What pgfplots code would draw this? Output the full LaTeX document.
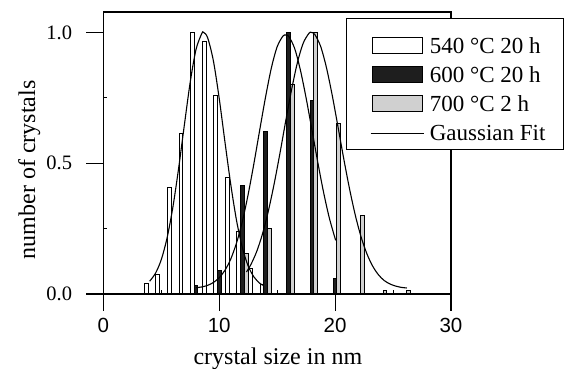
\documentclass[border=0pt]{standalone}
\usepackage{fontspec}
\setmainfont{Liberation Serif}
\newfontfamily\arialfont{Liberation Sans}
\usepackage{pgfplots}
\pgfplotsset{compat=1.18}
\definecolor{barblack}{HTML}{1E1E1E}
\definecolor{bargrey}{HTML}{D0D0D0}
\pgfplotsset{
  barleg/.style={legend image code/.code={\draw[##1, line width=0.9pt] (0pt,0pt) rectangle (50pt,16pt); \path (-7.6pt,0pt) (57pt,0pt);}},
  lineleg/.style={legend image code/.code={\draw[##1] (-1.6pt,7pt) -- (51.6pt,7pt); \path (-7.6pt,0pt) (57pt,0pt);}},
}
\begin{document}
\begin{tikzpicture}
\useasboundingbox (0,0) rectangle (565pt,369pt);
\begin{axis}[
  at={(103.3pt,75pt)}, anchor=south west,
  scale only axis, width=347.7pt, height=282pt,
  xmin=0, xmax=30, ymin=0, ymax=1.078,
  xtick={0,10,20,30}, xticklabels={0,10,20,30},
  ytick={0,0.5,1}, yticklabels={0.0,0.5,1.0},
  minor xtick={5,15,25}, minor ytick={0.25,0.75},
  xtick pos=bottom, ytick pos=left,
  tick align=inside, major tick length=-17pt, minor tick length=4pt,
  every tick/.style={black, line width=1.1pt},
  axis line style={line width=1.2pt},
  xticklabel style={font=\arialfont\fontsize{20.5}{20.5}\selectfont, anchor=base, inner sep=0pt, yshift=-39pt},
  yticklabel style={font=\fontsize{20.5}{20.5}\selectfont, anchor=east, inner sep=0pt, xshift=-31pt},
  xlabel={crystal size in nm},
  ylabel={number of crystals},
  xlabel style={font=\fontsize{24}{24}\selectfont, at={(axis description cs:0.502,-0.25)}, anchor=base},
  ylabel style={font=\fontsize{24}{24}\selectfont, at={(axis description cs:-0.1964,0.44)}, anchor=base},
  legend style={at={(1.325,0.9777)}, anchor=north east, draw=black, line width=1pt, fill=white,
    inner xsep=18pt, inner ysep=8pt, row sep=2.3pt,
    nodes={inner sep=0pt, text height=26.4pt, text depth=0pt, font=\fontsize{23}{23}\selectfont, anchor=base west}},
]
\addplot[ybar, bar width=0.33, bar shift=0pt, fill=white, draw=black, line width=1pt, barleg]
coordinates {(3.7,0.04) (4.7,0.073) (5.7,0.407) (6.7,0.613) (7.7,1.0) (8.7,0.967) (9.7,0.76) (10.7,0.446) (11.7,0.24) (12.7,0.098) (13.7,0.037)};
\addlegendentry{540 °C 20 h}
\addplot[ybar, bar width=0.33, bar shift=0pt, fill=barblack, draw=black, line width=1pt, barleg]
coordinates {(8,0.032) (10,0.09) (12,0.415) (14,0.62) (16,1.0) (18,0.74) (20,0.06)};
\addlegendentry{600 °C 20 h}
\addplot[ybar, bar width=0.33, bar shift=0pt, fill=bargrey, draw=black, line width=1pt, barleg]
coordinates {(12.35,0.153) (14.35,0.25) (16.35,0.80) (18.3,1.0) (20.3,0.65) (22.35,0.30) (24.3,0.015) (26.3,0.015)};
\addlegendentry{700 °C 2 h}
\addplot[smooth, black, line width=1.1pt, lineleg]
coordinates {(4.0,0.049) (4.5,0.079) (5.0,0.131) (5.5,0.214) (6.0,0.331) (6.5,0.481) (7.0,0.648) (7.5,0.810) (8.0,0.935) (8.5,0.996) (8.65,1.0) (9.0,0.980) (9.5,0.891) (10.0,0.748) (10.5,0.580) (11.0,0.418) (11.5,0.280) (12.0,0.177) (12.5,0.107) (13.0,0.065) (13.5,0.041) (13.8,0.033)};
\addlegendentry{Gaussian Fit}
\addplot[smooth, black, line width=1.1pt, forget plot]
coordinates {(8.0,0.024) (8.5,0.027) (9.0,0.033) (9.5,0.044) (10.0,0.062) (10.5,0.091) (11.0,0.134) (11.5,0.196) (12.0,0.278) (12.5,0.381) (13.0,0.500) (13.5,0.628) (14.0,0.753) (14.5,0.864) (15.0,0.945) (15.5,0.986) (15.75,0.99) (16.0,0.985) (16.5,0.940) (17.0,0.857) (17.5,0.749) (18.0,0.628) (18.5,0.505) (19.0,0.390) (19.5,0.291) (20.05,0.205)};
\addplot[smooth, black, line width=1.1pt, forget plot]
coordinates {(12.35,0.084) (12.75,0.114) (13.25,0.164) (13.75,0.232) (14.25,0.319) (14.75,0.423) (15.25,0.540) (15.75,0.664) (16.25,0.782) (16.75,0.885) (17.25,0.959) (17.75,0.997) (17.95,1.0) (18.25,0.992) (18.75,0.947) (19.25,0.866) (19.75,0.760) (20.25,0.639) (20.75,0.516) (21.25,0.401) (21.75,0.300) (22.25,0.217) (22.75,0.153) (23.25,0.106) (23.75,0.073) (24.25,0.051) (24.75,0.038) (25.25,0.030) (25.75,0.025) (26.2,0.023)};
\end{axis}
\end{tikzpicture}
\end{document}
